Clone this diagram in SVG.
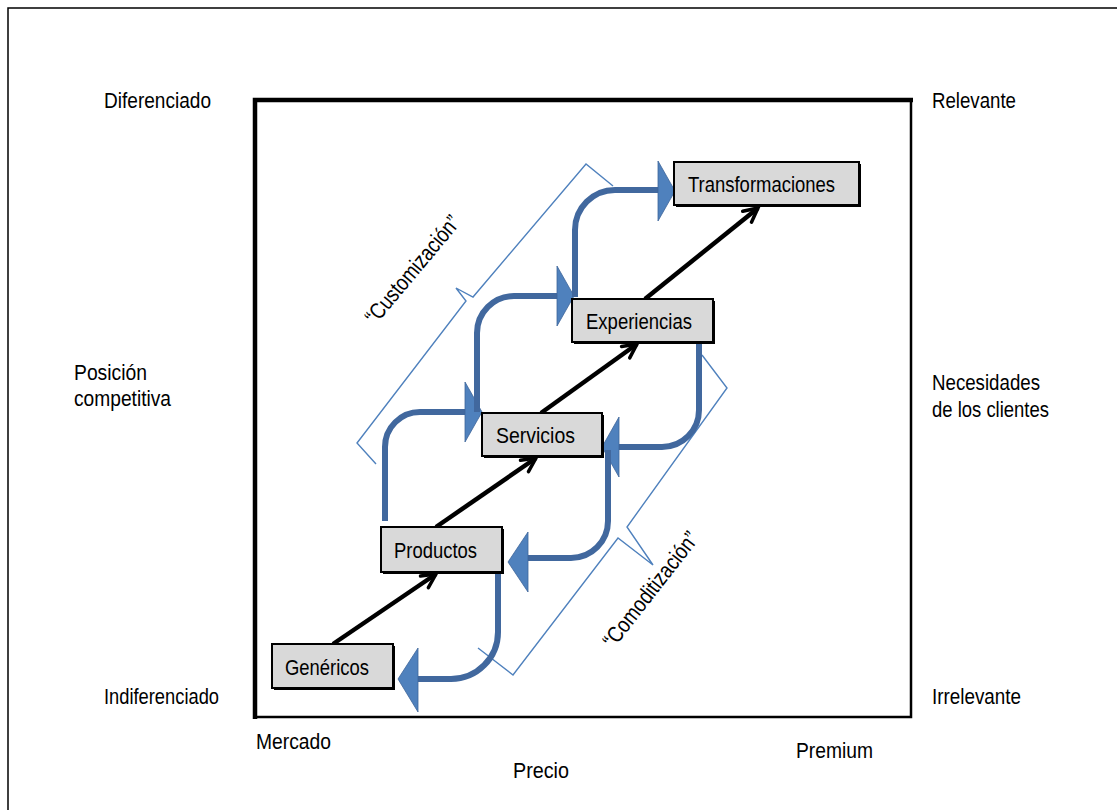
<svg xmlns="http://www.w3.org/2000/svg" width="1117" height="810" viewBox="0 0 1117 810">
  <defs>
    <style>
      text { font-family: "Liberation Sans Narrow", "Liberation Sans", Arial, sans-serif; font-size: 22.5px; fill: #000; }
      .box { fill: #d9d9d9; stroke: #000; stroke-width: 2; }
      .shadow { fill: #000; }
      .flow { fill: none; stroke: #41689e; stroke-width: 6; stroke-linecap: butt; }
      .head { fill: #4f81bd; stroke: #3d6499; stroke-width: 0.8; stroke-linejoin: round; }
      .brace { fill: none; stroke: #4f81bd; stroke-width: 1.4; stroke-linejoin: miter; }
      .step { fill: none; stroke: #000; stroke-width: 4.5; }
    </style>
    <marker id="stick" markerUnits="userSpaceOnUse" markerWidth="24" markerHeight="24" viewBox="-18 -12 24 24" refX="0" refY="0" orient="auto">
      <path d="M-14,-7 L0,0 L-14,7" fill="none" stroke="#000" stroke-width="3.5" stroke-linecap="round" stroke-linejoin="miter"/>
    </marker>
  </defs>

  <rect width="1117" height="810" fill="#fff"/>

  <!-- outer frame (only left and top edges fall inside the canvas) -->
  <path d="M8,810 V8 H1117" fill="none" stroke="#000" stroke-width="1.5"/>

  <!-- positioning chart frame -->
  <g id="frame">
    <rect x="255" y="100" width="656" height="617" fill="none" stroke="#000" stroke-width="2.5"/>
    <path d="M255,719 V100 H913" fill="none" stroke="#000" stroke-width="4.5"/>
  </g>

  <!-- axis labels -->
  <g id="labels">
    <text x="104" y="108" textLength="107" lengthAdjust="spacingAndGlyphs">Diferenciado</text>
    <text x="932" y="108" textLength="84" lengthAdjust="spacingAndGlyphs">Relevante</text>
    <text x="74" y="380" textLength="73" lengthAdjust="spacingAndGlyphs">Posición</text>
    <text x="74" y="406" textLength="97" lengthAdjust="spacingAndGlyphs">competitiva</text>
    <text x="932" y="390" textLength="108" lengthAdjust="spacingAndGlyphs">Necesidades</text>
    <text x="932" y="417" textLength="117" lengthAdjust="spacingAndGlyphs">de los clientes</text>
    <text x="104" y="704" textLength="115" lengthAdjust="spacingAndGlyphs">Indiferenciado</text>
    <text x="932" y="704" textLength="89" lengthAdjust="spacingAndGlyphs">Irrelevante</text>
    <text x="256" y="749" textLength="75" lengthAdjust="spacingAndGlyphs">Mercado</text>
    <text x="513" y="778" textLength="56" lengthAdjust="spacingAndGlyphs">Precio</text>
    <text x="796" y="758" textLength="77" lengthAdjust="spacingAndGlyphs">Premium</text>
  </g>

  <!-- brackets with their captions -->
  <g id="customizacion">
    <path class="brace" d="M613,186 L586,164 L473,297 L456,288 L466,301 L357,443 L376,464"/>
    <text transform="translate(413,270) rotate(-50)" x="0" y="7" text-anchor="middle" textLength="134" lengthAdjust="spacingAndGlyphs">“Customización”</text>
  </g>
  <g id="comoditizacion">
    <path class="brace" d="M702,355 L727,388 L627,527 L653,565 L618,538 L513,675 L478,648"/>
    <text transform="translate(651,590) rotate(-52)" x="0" y="7" text-anchor="middle" textLength="140" lengthAdjust="spacingAndGlyphs">“Comoditización”</text>
  </g>

  <!-- connectors -->
  <g id="connectors">
    <!-- progression of economic value -->
    <line class="step" x1="333" y1="644" x2="436" y2="574" marker-end="url(#stick)"/>
    <line class="step" x1="436" y1="527" x2="536" y2="458" marker-end="url(#stick)"/>
    <line class="step" x1="541" y1="413" x2="637" y2="344" marker-end="url(#stick)"/>
    <line class="step" x1="645" y1="299" x2="758" y2="208" marker-end="url(#stick)"/>

    <!-- customization flows (up and right) -->
    <path class="flow" d="M385,521 V447 A35,35 0 0 1 420,412 H467"/>
    <polygon class="head" points="465,382 482,412 465,442"/>
    <path class="flow" d="M477,412 V333 A37,37 0 0 1 514,296 H559"/>
    <polygon class="head" points="557,266 574,296 557,326"/>
    <path class="flow" d="M575,297 V230 A40,40 0 0 1 615,190 H660"/>
    <polygon class="head" points="658,161 675,191 658,221"/>

    <!-- commoditization flows (down and left) -->
    <path class="flow" d="M699,342 V410 A37,37 0 0 1 662,447 H616"/>
    <polygon class="head" points="619,417 602,447 619,477"/>
    <path class="flow" d="M608,450 V521 A37,37 0 0 1 571,558 H526"/>
    <polygon class="head" points="528,532 508,562 528,592"/>
    <path class="flow" d="M498,572 V632 A47,47 0 0 1 451,679 H416"/>
    <polygon class="head" points="418,648 398,679 418,712"/>
  </g>

  <!-- stages -->
  <g id="genericos">
    <rect class="shadow" x="274" y="646" width="121" height="44"/>
    <rect class="box" x="272" y="644" width="121" height="44"/>
    <text x="285" y="675" textLength="84" lengthAdjust="spacingAndGlyphs">Genéricos</text>
  </g>
  <g id="productos">
    <rect class="shadow" x="383" y="529" width="121" height="45"/>
    <rect class="box" x="381" y="527" width="121" height="45"/>
    <text x="394" y="558" textLength="83" lengthAdjust="spacingAndGlyphs">Productos</text>
  </g>
  <g id="servicios">
    <rect class="shadow" x="484" y="415" width="120" height="43"/>
    <rect class="box" x="482" y="413" width="120" height="43"/>
    <text x="496" y="443" textLength="79" lengthAdjust="spacingAndGlyphs">Servicios</text>
  </g>
  <g id="experiencias">
    <rect class="shadow" x="574" y="301" width="141" height="43"/>
    <rect class="box" x="572" y="299" width="141" height="43"/>
    <text x="586" y="329" textLength="106" lengthAdjust="spacingAndGlyphs">Experiencias</text>
  </g>
  <g id="transformaciones">
    <rect class="shadow" x="676" y="164" width="185" height="43"/>
    <rect class="box" x="674" y="162" width="185" height="43"/>
    <text x="688" y="192" textLength="147" lengthAdjust="spacingAndGlyphs">Transformaciones</text>
  </g>
</svg>
